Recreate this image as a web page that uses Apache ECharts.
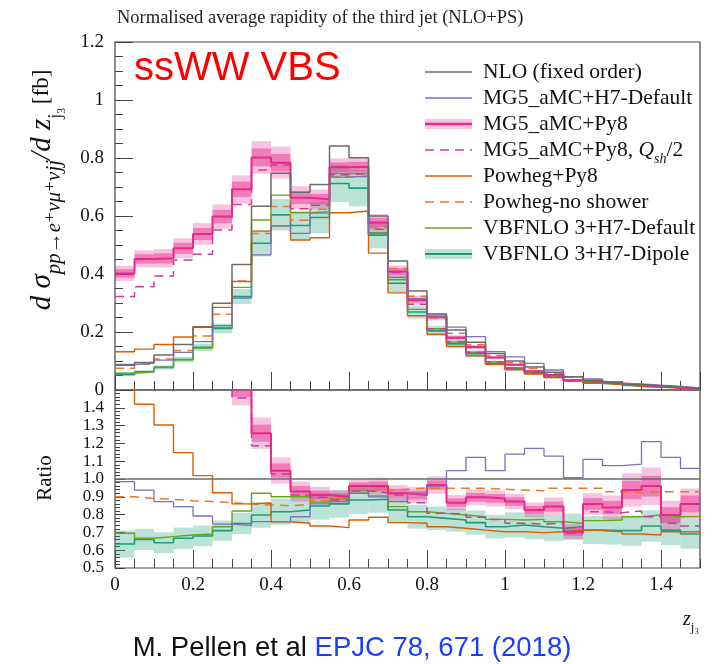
<!DOCTYPE html>
<html><head><meta charset="utf-8">
<script src="https://cdn.jsdelivr.net/npm/echarts@6/dist/echarts.min.js"></script>
<style>html,body{margin:0;padding:0;background:#fff}#c{width:713px;height:664px}</style>
</head><body><div id="c"></div>
<script>
// ---- bin edges (z_j3) ----
const binEdges = [0,0.05,0.1,0.15,0.2,0.25,0.3,0.35,0.4,0.45,0.5,0.55,0.6,0.65,0.7,0.75,0.8,0.85,0.9,0.95,1.0,1.05,1.1,1.15,1.2,1.25,1.3,1.35,1.4,1.45,1.5];
// ---- tick labels ----
const xTickLabels = ['0','0.2','0.4','0.6','0.8','1','1.2','1.4'];
const ratioTickLabels = ['0.5','0.6','0.7','0.8','0.9','1.0','1.1','1.2','1.3','1.4'];
// ---- upper panel: distributions [fb] ----
const nlo            = [0.085,0.095,0.121,0.157,0.216,0.299,0.433,0.634,0.747,0.682,0.709,0.841,0.801,0.600,0.445,0.341,0.262,0.207,0.165,0.126,0.100,0.079,0.061,0.046,0.034,0.027,0.019,0.014,0.011,0.006];
const mg5H7          = [0.088,0.092,0.103,0.130,0.167,0.222,0.317,0.466,0.566,0.540,0.610,0.734,0.737,0.540,0.388,0.314,0.252,0.217,0.184,0.132,0.114,0.092,0.069,0.046,0.038,0.028,0.021,0.017,0.012,0.007];
const mg5Py8         = [0.402,0.452,0.454,0.489,0.538,0.598,0.692,0.802,0.784,0.663,0.658,0.768,0.770,0.578,0.409,0.310,0.253,0.180,0.148,0.112,0.087,0.065,0.052,0.032,0.029,0.023,0.018,0.013,0.009,0.005];
const mg5Py8Qsh      = [0.322,0.356,0.393,0.448,0.468,0.552,0.640,0.759,0.776,0.625,0.637,0.742,0.747,0.554,0.405,0.296,0.211,0.166,0.130,0.097,0.075,0.059,0.046,0.032,0.028,0.022,0.016,0.011,0.008,0.0044];
const powhegPy8      = [0.132,0.141,0.157,0.183,0.218,0.285,0.374,0.548,0.566,0.517,0.525,0.611,0.617,0.472,0.335,0.256,0.192,0.150,0.118,0.089,0.070,0.055,0.043,0.033,0.024,0.019,0.013,0.0096,0.0077,0.0042];
const powhegNoShower = [0.075,0.089,0.107,0.136,0.186,0.261,0.376,0.540,0.633,0.585,0.623,0.735,0.737,0.560,0.419,0.323,0.248,0.196,0.156,0.119,0.094,0.074,0.058,0.044,0.032,0.025,0.0175,0.013,0.010,0.0056];
const vbfDefault     = [0.058,0.063,0.079,0.104,0.145,0.216,0.354,0.586,0.672,0.611,0.615,0.747,0.747,0.543,0.380,0.278,0.211,0.165,0.130,0.097,0.077,0.061,0.046,0.035,0.026,0.021,0.015,0.011,0.0087,0.0047];
const vbfDipole      = [0.054,0.063,0.078,0.105,0.147,0.212,0.322,0.506,0.604,0.567,0.595,0.712,0.696,0.534,0.368,0.269,0.204,0.159,0.125,0.092,0.074,0.058,0.044,0.034,0.024,0.019,0.0135,0.0103,0.0078,0.0041];
// relative uncertainty bands
const mg5Py8RelErr   = [0.065,0.065,0.07,0.07,0.07,0.07,0.07,0.07,0.07,0.06,0.05,0.04,0.04,0.05,0.05,0.05,0.05,0.05,0.05,0.05,0.05,0.05,0.06,0.06,0.07,0.08,0.10,0.11,0.10,0.10];
const dipoleRelErr   = [0.12,0.09,0.09,0.09,0.085,0.08,0.08,0.09,0.09,0.09,0.09,0.09,0.09,0.085,0.085,0.085,0.085,0.085,0.09,0.09,0.095,0.095,0.10,0.10,0.11,0.11,0.12,0.12,0.12,0.12];
// ---- lower panel: ratio to NLO ----
const rMg5H7          = [0.985,0.938,0.873,0.845,0.792,0.747,0.738,0.76,0.76,0.788,0.86,0.873,0.92,0.90,0.873,0.92,0.96,1.047,1.122,1.047,1.14,1.172,1.129,1.007,1.11,1.075,1.084,1.21,1.122,1.06];
const rMg5Py8         = [4.7,4.76,3.75,3.11,2.49,2.0,1.52,1.257,1.047,0.93,0.91,0.90,0.96,0.96,0.92,0.91,0.966,0.867,0.897,0.891,0.873,0.826,0.845,0.704,0.86,0.84,0.938,0.96,0.798,0.86];
const rMg5Py8Qsh      = [3.8,3.75,3.25,2.85,2.17,1.85,1.455,1.187,1.028,0.91,0.897,0.882,0.933,0.923,0.91,0.867,0.807,0.803,0.785,0.773,0.751,0.747,0.751,0.695,0.816,0.811,0.82,0.788,0.751,0.736];
const rPowhegPy8      = [1.6,1.42,1.303,1.148,1.019,0.923,0.86,0.865,0.76,0.751,0.736,0.727,0.77,0.785,0.755,0.751,0.732,0.723,0.713,0.704,0.704,0.699,0.704,0.713,0.71,0.704,0.691,0.685,0.704,0.704];
const rPowhegNoShower = [0.90,0.891,0.886,0.878,0.873,0.867,0.86,0.854,0.85,0.857,0.878,0.891,0.92,0.934,0.942,0.948,0.948,0.948,0.948,0.942,0.938,0.934,0.948,0.948,0.948,0.929,0.923,0.929,0.929,0.929];
const rVbfDefault     = [0.695,0.667,0.676,0.685,0.691,0.732,0.82,0.92,0.90,0.90,0.87,0.89,0.935,0.905,0.845,0.816,0.807,0.798,0.788,0.773,0.77,0.773,0.76,0.751,0.766,0.77,0.788,0.798,0.788,0.79];
const rVbfDipole      = [0.635,0.661,0.642,0.667,0.68,0.71,0.75,0.798,0.816,0.826,0.848,0.86,0.882,0.886,0.826,0.788,0.779,0.77,0.755,0.732,0.742,0.732,0.723,0.732,0.713,0.71,0.71,0.736,0.713,0.691];

// ---- colours ----
const C = {
  nlo:'#6b6b6b', h7:'#7b72b8', py8:'#e7298a', qsh:'#cc3d98', pow:'#d95f02', nosh:'#e9782c',
  vdef:'#66a61e', vdip:'#1b9e77',
  py8Light:'rgba(231,41,138,0.28)', py8Dark:'rgba(231,41,138,0.45)', dipBand:'rgba(27,158,119,0.30)'
};
const SERIF = '"Liberation Serif","DejaVu Serif",serif';
const SANS = '"Liberation Sans","Noto Sans",sans-serif';

function stepData(vals){
  const d = vals.map((v,i)=>[binEdges[i], v]);
  d.push([binEdges[vals.length], vals[vals.length-1]]);
  return d;
}
function bandData(vals, rel, scale){
  return vals.map((v,i)=>[binEdges[i], binEdges[i+1], v*(1-rel[i]*scale), v*(1+rel[i]*scale)]);
}
function bandSeries(data, color, xi, yi){
  return {type:'custom', xAxisIndex:xi, yAxisIndex:yi, data, silent:true,
    encode:{x:[0,1], y:[2,3]},
    renderItem:(params, api)=>{
      const a = api.coord([api.value(0), api.value(3)]);
      const b = api.coord([api.value(1), api.value(2)]);
      const cs = params.coordSys;
      const shape = echarts.graphic.clipRectByRect(
        {x:a[0], y:a[1], width:b[0]-a[0], height:b[1]-a[1]},
        {x:cs.x, y:cs.y, width:cs.width, height:cs.height});
      if (!shape) return null;
      return {type:'rect', shape, style:{fill:color}};
    }};
}
function lineSeries(vals, color, width, xi, yi, dashed){
  return {type:'line', xAxisIndex:xi, yAxisIndex:yi, data:stepData(vals), step:'end',
    symbol:'none', showSymbol:false, silent:true, clip:true,
    lineStyle:{color, width, type: dashed ? [9,6] : 'solid'}};
}

const series = [
  bandSeries(bandData(vbfDipole, dipoleRelErr, 1), C.dipBand, 0, 0),
  bandSeries(bandData(mg5Py8, mg5Py8RelErr, 1), C.py8Light, 0, 0),
  bandSeries(bandData(mg5Py8, mg5Py8RelErr, 0.55), C.py8Dark, 0, 0),
  bandSeries(bandData(rVbfDipole, dipoleRelErr, 1), C.dipBand, 2, 2),
  bandSeries(bandData(rMg5Py8, mg5Py8RelErr, 1), C.py8Light, 2, 2),
  bandSeries(bandData(rMg5Py8, mg5Py8RelErr, 0.55), C.py8Dark, 2, 2),
];
const defs = [
  [vbfDipole, rVbfDipole, C.vdip, 1.6, false],
  [vbfDefault, rVbfDefault, C.vdef, 1.4, false],
  [powhegNoShower, rPowhegNoShower, C.nosh, 1.5, true],
  [powhegPy8, rPowhegPy8, C.pow, 1.4, false],
  [mg5Py8Qsh, rMg5Py8Qsh, C.qsh, 1.5, true],
  [mg5Py8, rMg5Py8, C.py8, 2.0, false],
  [mg5H7, rMg5H7, C.h7, 1.3, false],
];
defs.forEach(d=>{
  series.push(lineSeries(d[0], d[2], d[3], 0, 0, d[4]));
  series.push(lineSeries(d[1], d[2], d[3], 2, 2, d[4]));
});
series.push(lineSeries(nlo, C.nlo, 1.5, 0, 0, false));
series.push({type:'line', xAxisIndex:2, yAxisIndex:2, data:[], silent:true,
  markLine:{silent:true, symbol:'none', label:{show:false}, animation:false,
    lineStyle:{color:C.nlo, width:1.5, type:'solid'}, data:[{yAxis:1}]}});

const tickLine = {color:'#444', width:1};
function xAx(grid, interval, len, labels){
  return {type:'value', gridIndex:grid, min:0, max:1.5, interval, position:'bottom',
    axisLine:{show:false}, splitLine:{show:false},
    axisTick:{show:true, inside:true, length:len, lineStyle:tickLine},
    axisLabel:{show:labels, margin:8, color:'#111', fontFamily:SERIF, fontSize:19,
      showMaxLabel:false,
      formatter:v=>{ const s = String(+v.toFixed(2)); return xTickLabels.includes(s) ? s : ''; }}};
}
function yAx(grid, min, max, interval, len, labels, fmt, fs){
  return {type:'value', gridIndex:grid, min, max, interval, position:'left',
    axisLine:{show:false}, splitLine:{show:false},
    axisTick:{show:true, inside:true, length:len, lineStyle:tickLine},
    axisLabel:{show:labels, margin:11, color:'#111', fontFamily:SERIF, fontSize:fs, formatter:fmt}};
}

const option = {
  animation:false,
  backgroundColor:'#fff',
  title:{text:'Normalised average rapidity of the third jet (NLO+PS)', left:112, top:4,
    textStyle:{fontFamily:SERIF, fontSize:18.5, fontWeight:'normal', color:'#222'}},
  grid:[
    {left:115, right:13, top:42, height:348, show:true, borderColor:'#444', borderWidth:1.2, backgroundColor:'transparent'},
    {left:115, right:13, top:390, height:178, show:true, borderColor:'#444', borderWidth:1.2, backgroundColor:'transparent'}
  ],
  xAxis:[ xAx(0,0.05,9,false), xAx(0,0.2,18,false), xAx(1,0.05,9,false), xAx(1,0.2,18,true) ],
  yAxis:[
    yAx(0,0,1.2,0.05,8,false,null,19),
    yAx(0,0,1.2,0.2,18,true,v=>String(+v.toFixed(1)),19),
    yAx(1,0.5,1.5,0.02,5,false,null,17),
    yAx(1,0.5,1.5,0.1,10,true,v=>{ const s=v.toFixed(1); return ratioTickLabels.includes(s)?s:''; },17)
  ],
  series,
  graphic:[]
};

// ---- legend (graphic) ----
const legendRows = [
  {t:'NLO (fixed order)', c:C.nlo, w:1.5},
  {t:'MG5_aMC+H7-Default', c:C.h7, w:1.3},
  {t:'MG5_aMC+Py8', c:C.py8, w:2.4, band:C.py8Light},
  {t:'MG5_aMC+Py8, {it|Q}{sub|sh}/2', c:C.qsh, w:1.6, dash:true},
  {t:'Powheg+Py8', c:C.pow, w:1.5},
  {t:'Powheg-no shower', c:C.nosh, w:1.6, dash:true},
  {t:'VBFNLO 3+H7-Default', c:C.vdef, w:1.5},
  {t:'VBFNLO 3+H7-Dipole', c:C.vdip, w:2.0, band:C.dipBand},
];
const g = option.graphic;
legendRows.forEach((r,i)=>{
  const y = 72 + i*26;
  if (r.band) g.push({type:'rect', shape:{x:425, y:y-5, width:47, height:10}, style:{fill:r.band}, silent:true});
  g.push({type:'line', shape:{x1:425, y1:y, x2:472, y2:y},
    style:{stroke:r.c, lineWidth:r.w, lineDash: r.dash ? [9,6] : null}, silent:true});
  g.push({type:'text', x:483, y:y, silent:true,
    style:{text:r.t, fontFamily:SERIF, fontSize:21.5, fill:'#111', verticalAlign:'middle', align:'left',
      rich:{it:{fontFamily:SERIF, fontSize:21.5, fontStyle:'italic', fill:'#111'},
            sub:{fontFamily:SERIF, fontSize:14, fontStyle:'italic', fill:'#111', verticalAlign:'bottom', lineHeight:32}}}});
});
g.push({type:'text', x:134, y:69, silent:true,
  style:{text:'ssWW VBS', fontFamily:SANS, fontSize:40, fill:'#ff0000', verticalAlign:'middle'}});
// y-axis title (upper)
g.push({type:'text', x:42, y:190, rotation:Math.PI/2, silent:true,
  style:{text:'{i|d σ}{s|pp→e⁺νμ⁺νjj}{i|/d z}{s2|j₃} {n|[fb]}', align:'center', verticalAlign:'middle',
    rich:{
      i:{fontFamily:SERIF, fontSize:29, fontStyle:'italic', fill:'#111', lineHeight:46, verticalAlign:'middle'},
      s:{fontFamily:SERIF, fontSize:21, fontStyle:'italic', fill:'#111', lineHeight:46, verticalAlign:'bottom'},
      s2:{fontFamily:SERIF, fontSize:18, fill:'#111', lineHeight:46, verticalAlign:'bottom'},
      n:{fontFamily:SERIF, fontSize:23, fill:'#111', lineHeight:46, verticalAlign:'middle'}
    }}});
g.push({type:'text', x:45, y:478, rotation:Math.PI/2, silent:true,
  style:{text:'Ratio', fontFamily:SERIF, fontSize:21, fill:'#111', align:'center', verticalAlign:'middle'}});
g.push({type:'text', x:683, y:620, silent:true,
  style:{text:'{i|z}{s|j₃}', verticalAlign:'middle',
    rich:{i:{fontFamily:SERIF, fontSize:20, fontStyle:'italic', fill:'#111', lineHeight:28},
          s:{fontFamily:SERIF, fontSize:13, fill:'#111', lineHeight:28, verticalAlign:'bottom'}}}});
g.push({type:'text', x:352, y:648, silent:true,
  style:{text:'{a|M. Pellen et al }{b|EPJC 78, 671 (2018)}', align:'center', verticalAlign:'middle',
    rich:{a:{fontFamily:SANS, fontSize:27.5, fill:'#111'},
          b:{fontFamily:SANS, fontSize:27.5, fill:'#1a3cff'}}}});

const chart = echarts.init(document.getElementById('c'), null, {renderer:'canvas', width:713, height:664});
chart.setOption(option);
</script></body></html>
